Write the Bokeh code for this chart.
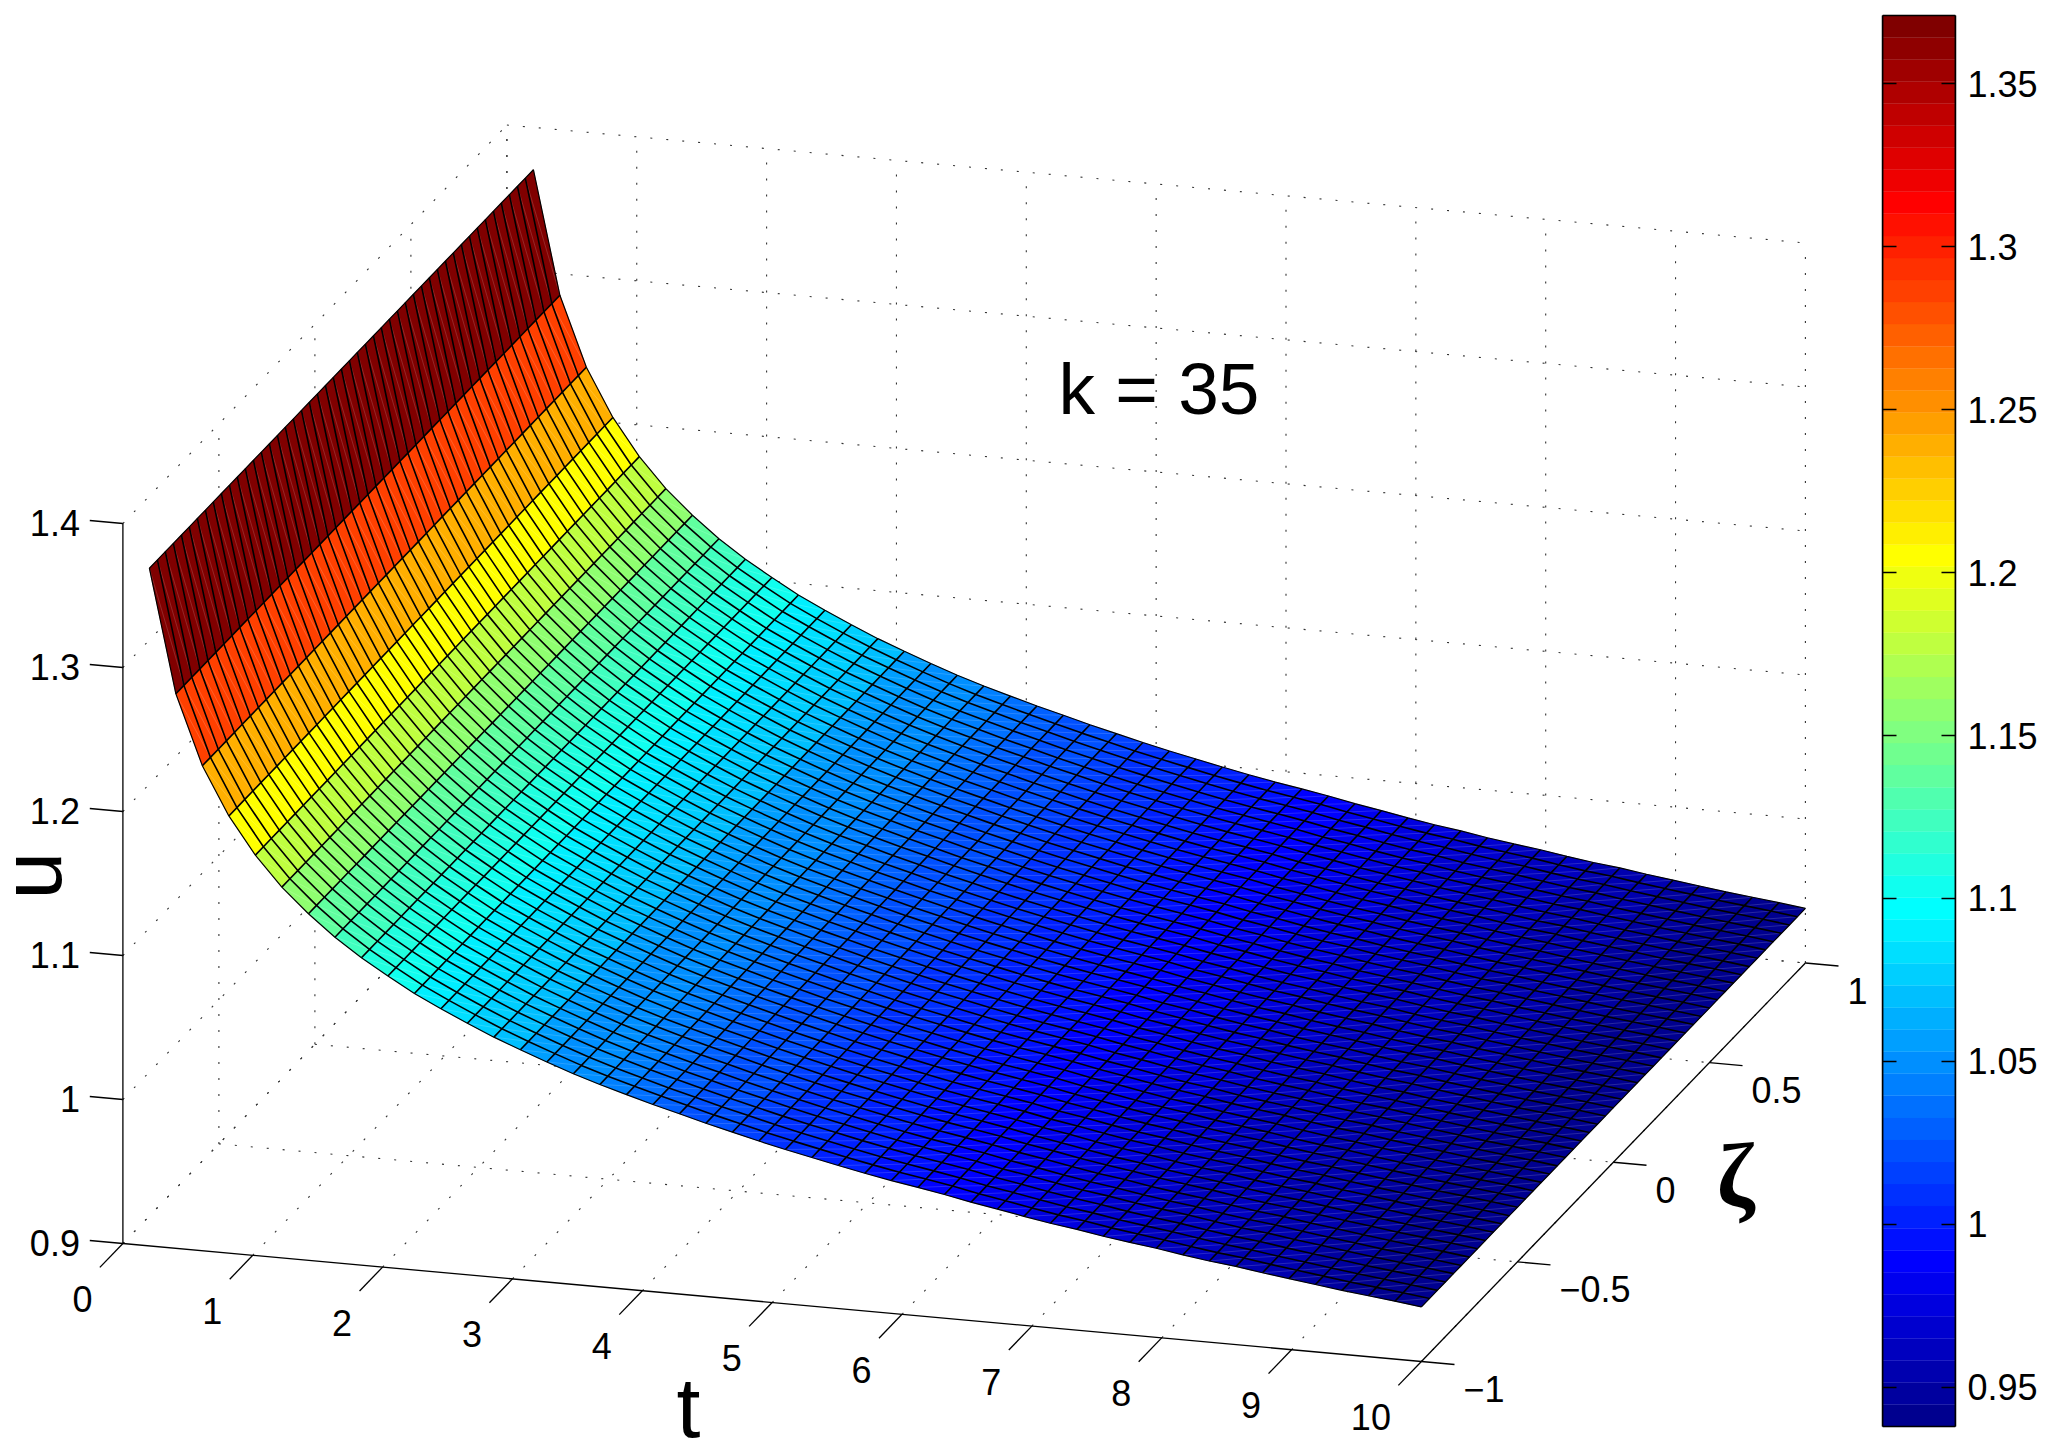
from bokeh.plotting import figure, ColumnDataSource
from bokeh.models import Range1d, FixedTicker, LinearAxis
from bokeh.core.properties import value
from bokeh.layouts import row
from bokeh.embed import file_html
from bokeh.resources import INLINE
import numpy as np

t_grid = [0.204, 0.408, 0.612, 0.816, 1.020, 1.224, 1.429, 1.633, 1.837, 2.041, 2.245, 2.449, 2.653, 2.857, 3.061, 3.265, 3.469,
          3.673, 3.878, 4.082, 4.286, 4.490, 4.694, 4.898, 5.102, 5.306, 5.510, 5.714, 5.918, 6.122, 6.327, 6.531, 6.735,
          6.939, 7.143, 7.347, 7.551, 7.755, 7.959, 8.163, 8.367, 8.571, 8.776, 8.980, 9.184, 9.388, 9.592, 9.796, 10.0]
zeta_grid = [-1.0, -0.958, -0.917, -0.875, -0.833, -0.792, -0.75, -0.708, -0.667, -0.625, -0.583, -0.542, -0.5, -0.458, -0.417,
             -0.375, -0.333, -0.292, -0.25, -0.208, -0.167, -0.125, -0.083, -0.042, 0.0, 0.042, 0.083, 0.125, 0.167, 0.208,
             0.25, 0.292, 0.333, 0.375, 0.417, 0.458, 0.5, 0.542, 0.583, 0.625, 0.667, 0.708, 0.75, 0.792, 0.833, 0.875,
             0.917, 0.958, 1.0]
u_values = [1.3706, 1.2851, 1.2368, 1.2036, 1.1781, 1.1575, 1.1407, 1.1261, 1.1135, 1.1025, 1.0920, 1.0831, 1.0747, 1.0667,
            1.0596, 1.0528, 1.0463, 1.0405, 1.0352, 1.0300, 1.0252, 1.0203, 1.0158, 1.0113, 1.0071, 1.0032, 0.9993, 0.9956,
            0.9922, 0.9891, 0.9859, 0.9822, 0.9791, 0.9757, 0.9726, 0.9700, 0.9669, 0.9643, 0.9619, 0.9590, 0.9564, 0.9543,
            0.9516, 0.9492, 0.9468, 0.9444, 0.9423, 0.9402, 0.9379]

t_ticks = [0, 1, 2, 3, 4, 5, 6, 7, 8, 9, 10]
zeta_ticks = [-1, -0.5, 0, 0.5, 1]
zeta_labels = ["\u22121", "\u22120.5", "0", "0.5", "1"]
u_ticks = [0.9, 1.0, 1.1, 1.2, 1.3, 1.4]
u_labels = ["0.9", "1", "1.1", "1.2", "1.3", "1.4"]
cbar_ticks = [0.95, 1.0, 1.05, 1.1, 1.15, 1.2, 1.25, 1.3, 1.35]
cbar_labels = ["0.95", "1", "1.05", "1.1", "1.15", "1.2", "1.25", "1.3", "1.35"]
clim = (0.9379, 1.371)

FONT = "Liberation Sans"
TICK_SIZE = "36px"


def project(t, z, u):
    # orthographic view, gives page pixels
    t, z, u = np.asarray(t, float), np.asarray(z, float), np.asarray(u, float)
    x = 122.4 + 129.85 * t + 192.0 * (z + 1)
    y = 1243.0 + 11.8 * t - 199.25 * (z + 1) - 1440.0 * (u - 0.9)
    return x, y


def jet(n=64):
    out = []
    for i in range(1, n + 1):
        v = i / n
        r = min(4 * v - 1.5, -4 * v + 4.5)
        g = min(4 * v - 0.5, -4 * v + 3.5)
        b = min(4 * v + 0.5, -4 * v + 2.5)
        rgb = [int(round(255 * max(0, min(1, c)))) for c in (r, g, b)]
        out.append("#%02x%02x%02x" % tuple(rgb))
    return out


colors = jet()


def level(u):
    i = int((u - clim[0]) / (clim[1] - clim[0]) * 64)
    return colors[max(0, min(63, i))]


p = figure(width=1870, height=1456, x_range=Range1d(0, 1870), y_range=Range1d(1456, 0),
           output_backend="svg", toolbar_location=None, min_border=0,
           x_axis_location=None, y_axis_location=None)
p.grid.visible = False
p.outline_line_color = None

# dotted grid on floor and back walls
gx, gy = [], []


def grid_line(a, b):
    x, y = project(*zip(a, b))
    gx.append(list(x))
    gy.append(list(y))


umin, umax = u_ticks[0], u_ticks[-1]
for t in t_ticks:
    grid_line((t, -1, umin), (t, 1, umin))
    grid_line((t, 1, umin), (t, 1, umax))
for z in zeta_ticks:
    if z > -1:
        grid_line((0, z, umin), (10, z, umin))
        grid_line((0, z, umin), (0, z, umax))
for u in u_ticks:
    grid_line((0, -1, u), (0, 1, u))
    grid_line((0, 1, u), (10, 1, u))
p.multi_line(gx, gy, line_color="#333333", line_width=1.1, line_dash=value([2, 14]))

# surface faces, colour from the first vertex of each cell
T, Z = np.meshgrid(t_grid, zeta_grid, indexing="ij")
U = np.tile(np.array(u_values)[:, None], (1, len(zeta_grid)))
X, Y = project(T, Z, U)
xs, ys, fc, sx, sy = [], [], [], [], []
for i in range(len(t_grid) - 1):
    for j in range(len(zeta_grid) - 1):
        xs.append([X[i, j], X[i + 1, j], X[i + 1, j + 1], X[i, j + 1]])
        ys.append([Y[i, j], Y[i + 1, j], Y[i + 1, j + 1], Y[i, j + 1]])
        fc.append(level(U[i, j]))
        sx.append([X[i, j], X[i + 1, j + 1]])
        sy.append([Y[i, j], Y[i + 1, j + 1]])
src = ColumnDataSource(dict(xs=xs, ys=ys, c=fc))
p.patches("xs", "ys", fill_color="c", line_color="c", line_width=0.4, source=src)
# thin light seam the renderer left across each cell
p.multi_line(sx, sy, line_color="white", line_alpha=0.22, line_width=0.7)

# mesh lines
mx, my = [], []
for i in range(1, len(t_grid) - 1):
    mx.append(list(X[i, :]))
    my.append(list(Y[i, :]))
for j in range(1, len(zeta_grid) - 1):
    mx.append(list(X[:, j]))
    my.append(list(Y[:, j]))
p.multi_line(mx, my, line_color="black", line_width=1.6)
bx = [list(X[0, :]), list(X[-1, :]), list(X[:, 0]), list(X[:, -1])]
by = [list(Y[0, :]), list(Y[-1, :]), list(Y[:, 0]), list(Y[:, -1])]
p.multi_line(bx, by, line_color="black", line_width=1.2)

# the three visible axes and their ticks
ax, ay = [], []


def axis_line(a, b):
    x, y = project(*zip(a, b))
    ax.append(list(x))
    ay.append(list(y))


axis_line((0, -1, umin), (10, -1, umin))
axis_line((10, -1, umin), (10, 1, umin))
axis_line((0, -1, umin), (0, -1, umax))
for t in t_ticks:
    axis_line((t, -1, umin), (t, -1.12, umin))
for z in zeta_ticks:
    axis_line((10, z, umin), (10.255, z, umin))
for u in u_ticks:
    axis_line((0, -1, u), (-0.255, -1, u))
p.multi_line(ax, ay, line_color="black", line_width=1.3)


def label(x, y, txt, size=TICK_SIZE, font=FONT, align="center", baseline="middle", angle=0.0, style="normal"):
    p.text(x, y, text=txt, angle=angle, text_font=value(font), text_font_size=size, text_font_style=style,
           text_align=align, text_baseline=baseline, text_color="black")


tx, ty = project(t_ticks, [-1] * len(t_ticks), [umin] * len(t_ticks))
label(tx - 30.5, ty + 55.5, [str(t) for t in t_ticks], align="right")
zx, zy = project([10] * len(zeta_ticks), zeta_ticks, [umin] * len(zeta_ticks))
label(zx + 42, zy + 27.5, zeta_labels, align="left")
ux, uy = project([0] * len(u_ticks), [-1] * len(u_ticks), u_ticks)
label(ux - 43, uy - 0.7, u_labels, align="right")

label([1058], [387.5], ["k = 35"], size="73px", align="left")
label([688], [1406], ["t"], size="86px", baseline="alphabetic")
label([30], [875], ["u"], size="86px", baseline="alphabetic", angle=np.pi / 2)
label([1735], [1174], ["\u03b6"], size="92px", font="Liberation Serif", style="bold")

# colorbar, frame is full height so the row keeps both plots aligned
cb = figure(width=182, height=1456, x_range=Range1d(0, 1), y_range=Range1d(0.92873, 1.37557),
            output_backend="svg", toolbar_location=None, x_axis_location=None, y_axis_location="right",
            min_border_left=12, min_border_right=97, min_border_top=0, min_border_bottom=0)
cb.grid.visible = False
cb.outline_line_color = None
edges = np.linspace(clim[0], clim[1], len(colors) + 1)
cb.quad(left=0, right=1, bottom=edges[:-1], top=edges[1:], fill_color=colors, line_color=colors, line_width=0.3)
cb.quad(left=0, right=1, bottom=clim[0], top=clim[1], fill_color=None, line_color="black", line_width=1.5)

left_axis = LinearAxis(major_label_text_font_size="0px", major_label_text_color=None, major_label_standoff=0)
cb.add_layout(left_axis, "left")
for a in cb.yaxis:
    a.ticker = FixedTicker(ticks=cbar_ticks)
    a.bounds = clim
    a.major_tick_in = 14
    a.major_tick_out = 0
    a.minor_tick_line_color = None
    a.axis_line_color = "black"
    a.axis_line_width = 1.5
    a.major_tick_line_color = "black"
    a.major_tick_line_width = 1.3
right_axis = cb.right[0]
right_axis.major_label_overrides = dict(zip(cbar_ticks, cbar_labels))
right_axis.major_label_text_font = FONT
right_axis.major_label_text_font_size = TICK_SIZE
right_axis.major_label_text_color = "black"
right_axis.major_label_standoff = 12

layout = row(p, cb, spacing=0)
open("out.html", "w").write(file_html(layout, INLINE))
